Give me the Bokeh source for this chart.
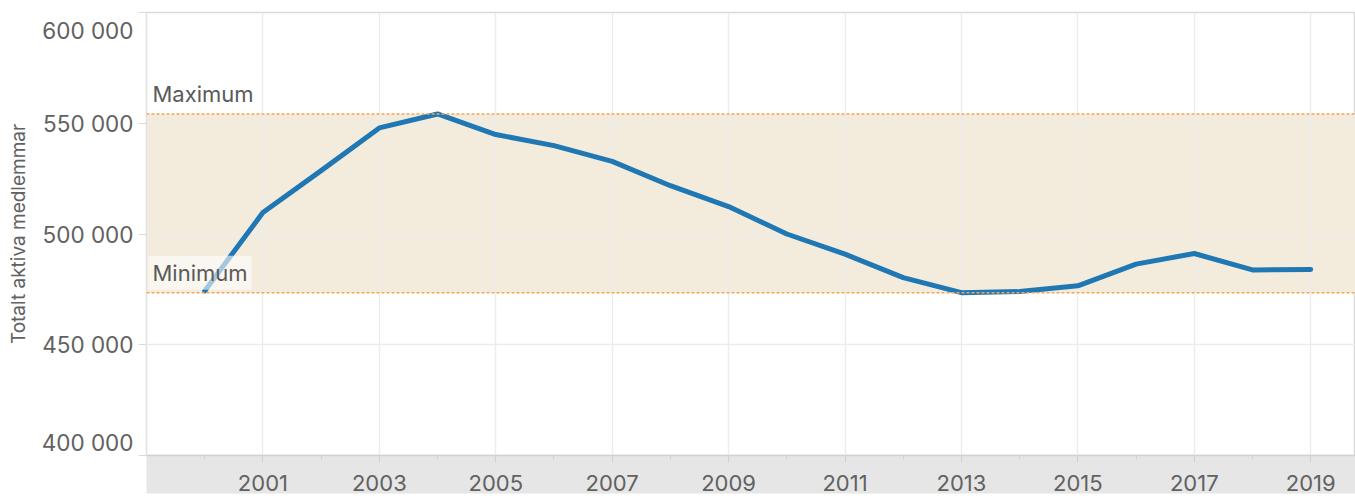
from bokeh.plotting import figure
from bokeh.models import FixedTicker, Span, BoxAnnotation, Label, Range1d, ColumnDataSource, LinearAxis
from bokeh.embed import file_html
from bokeh.resources import INLINE

# ---- data ----
years = [2000, 2001, 2002, 2003, 2004, 2005, 2006, 2007, 2008, 2009,
         2010, 2011, 2012, 2013, 2014, 2015, 2016, 2017, 2018, 2019]
members = [474300, 509700, 528600, 547900, 554200, 544900, 539900, 532800, 521800, 512400,
           500000, 490900, 480300, 473500, 474000, 476600, 486400, 491200, 483800, 484000]
x_major = [2001, 2003, 2005, 2007, 2009, 2011, 2013, 2015, 2017, 2019]
x_minor = [2000, 2002, 2004, 2006, 2008, 2010, 2012, 2014, 2016, 2018]
y_ticks = [400000, 450000, 500000, 550000, 600000]
y_title = "Totalt aktiva medlemmar"
max_text = "Maximum"
min_text = "Minimum"

FONT = "Inter"
TXT = "#616161"
W, H = 1355, 500
LEFT, TOP, BOTTOM = 146, 12, 45

def fmt(v):
    return f"{v:,}".replace(",", " ")

vmax = max(members)
vmin = min(members)

p = figure(width=W, height=H, output_backend="svg", toolbar_location=None,
           x_range=Range1d(1999, 2019.77), y_range=Range1d(y_ticks[0], y_ticks[-1]),
           min_border_left=LEFT, min_border_right=0, min_border_top=TOP,
           min_border_bottom=BOTTOM)
p.background_fill_color = "white"
p.border_fill_color = "white"
p.outline_line_color = "#dadada"
p.outline_line_width = 1.5

# band between min and max
band = BoxAnnotation(bottom=vmin, top=vmax, fill_color="#f3ecdc", fill_alpha=1.0,
                     line_alpha=0, level="image")
p.add_layout(band)

# grids
xt = FixedTicker(ticks=x_major, minor_ticks=x_minor)
yt = FixedTicker(ticks=y_ticks)
p.xaxis.ticker = xt
p.xgrid.ticker = xt
p.yaxis.ticker = yt
p.ygrid.ticker = yt
p.xgrid.grid_line_color = "#ececec"
p.ygrid.grid_line_color = "#ececec"
p.xgrid.grid_line_width = 1.5
p.ygrid.grid_line_width = 1.5

# line
src = ColumnDataSource(dict(x=years, y=members))
p.line("x", "y", source=src, line_color="#1f77b4", line_width=5,
       line_join="round", line_cap="round")

# min / max dashed lines
for v in (vmax, vmin):
    p.add_layout(Span(location=v, dimension="width", line_color="#f5a55a",
                      line_width=1.5, line_dash="3 2"))

# labels with translucent background
for v, t in ((vmax, max_text), (vmin, min_text)):
    p.add_layout(Label(x=1999, y=v, text=t, text_align="left", text_baseline="bottom",
                       x_offset=2, y_offset=3, text_font=FONT, text_font_size="22px",
                       text_color="#5a5a5a", background_fill_color="white",
                       background_fill_alpha=0.6, padding=4))

# x axis
xa = p.xaxis[0]
xa.background_fill_color = "#e6e6e6"
xa.axis_line_color = "#d2d2d2"
xa.axis_line_width = 1.5
xa.major_tick_line_color = "#d2d2d2"
xa.major_tick_in = 0
xa.major_tick_out = 7
xa.minor_tick_line_color = "#d2d2d2"
xa.minor_tick_in = 0
xa.minor_tick_out = 4
xa.major_label_text_font = FONT
xa.major_label_text_font_size = "22px"
xa.major_label_text_color = TXT
xa.major_label_standoff = 12

# y axis: inner axis draws the ticks only
ya = p.yaxis[0]
ya.axis_line_color = "#e2e2e2"
ya.major_tick_line_color = "#dadada"
ya.major_tick_in = 0
ya.major_tick_out = 8
ya.minor_tick_line_color = None
ya.major_label_standoff = 0
ya.major_label_overrides = {v: "" for v in y_ticks}
ya.major_label_text_font_size = "1px"

# outer axis draws the labels; end labels pulled inside the frame height
per_px = (y_ticks[-1] - y_ticks[0]) / (H - TOP - BOTTOM)
lab_pos = list(y_ticks)
lab_pos[0] = y_ticks[0] + 13.5 * per_px
lab_pos[-1] = y_ticks[-1] - 18 * per_px
ya2 = LinearAxis(ticker=FixedTicker(ticks=lab_pos),
                 major_label_overrides={lp: fmt(v) for lp, v in zip(lab_pos, y_ticks)})
ya2.axis_line_color = None
ya2.major_tick_line_color = None
ya2.minor_tick_line_color = None
ya2.major_tick_in = 0
ya2.major_tick_out = 0
ya2.major_label_standoff = 5
ya2.major_label_text_font = FONT
ya2.major_label_text_font_size = "22.5px"
ya2.major_label_text_color = TXT
ya2.axis_label = y_title
ya2.axis_label_text_font = FONT
ya2.axis_label_text_font_size = "19px"
ya2.axis_label_text_font_style = "normal"
ya2.axis_label_text_color = TXT
ya2.axis_label_standoff = 9
p.add_layout(ya2, "left")

open("out.html", "w").write(file_html(p, INLINE))
